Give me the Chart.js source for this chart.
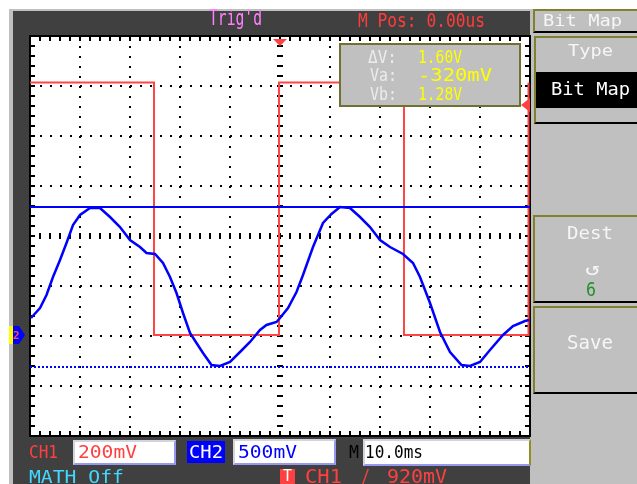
<!DOCTYPE html>
<html>
<head>
<meta charset="utf-8">
<script src="https://cdn.jsdelivr.net/npm/chart.js@4.4.1/dist/chart.umd.min.js"></script>
<style>
html, body { margin: 0; padding: 0; background: #fff; }
body { width: 637px; height: 484px; position: relative; overflow: hidden; }
.r { position: absolute; box-sizing: border-box; }
.t { position: absolute; white-space: pre; line-height: 1; font-family: 'DejaVu Sans Mono', monospace; transform-origin: 0 0; z-index: 3; }
#wrap { position: absolute; left: 0; top: 0; width: 637px; height: 484px; z-index: 1; }
.menu { border-left: 2px solid #808030; border-top: 2px solid #808030; border-bottom: 2px solid #000; }
.vbox { background: #fff; border: 2px solid; border-color: #d4d4e0 #9898f0 #9898f0 #d4d4e0; }
</style>
</head>
<body>
<!-- scope frame -->
<div class="r" style="left:9px;top:9px;width:521px;height:475px;background:#c0c0c0"></div>
<div class="r" style="left:13px;top:11px;width:517px;height:473px;background:#404040"></div>
<div class="r" style="left:530px;top:9px;width:107px;height:475px;background:#c0c0c0"></div>
<!-- right menu -->
<div class="r menu" style="left:533px;top:9px;width:104px;height:24px"></div>
<div class="r menu" style="left:534px;top:36px;width:103px;height:88px"></div>
<div class="r" style="left:536px;top:72px;width:101px;height:36px;background:#000"></div>
<div class="r menu" style="left:533px;top:215px;width:104px;height:88px"></div>
<div class="r menu" style="left:533px;top:306px;width:104px;height:88px"></div>
<!-- bottom status boxes -->
<div class="r vbox" style="left:73px;top:440px;width:103px;height:25px"></div>
<div class="r" style="left:187px;top:441px;width:38px;height:22px;background:#0000ff"></div>
<div class="r vbox" style="left:233px;top:439px;width:103px;height:26px"></div>
<div class="r vbox" style="left:363px;top:439px;width:168px;height:27px;border-right-color:#909020"></div>
<div class="r" style="left:280px;top:469px;width:15px;height:15px;background:#ff4040"></div>

<div id="wrap"><canvas id="scope"></canvas></div>

<!-- cursor readout box -->
<div class="r" style="left:339px;top:43px;width:182px;height:64px;background:#c0c0c0;border:2px solid #707030;z-index:2"></div>

<script>
// time in ms (10.0ms/div), CH1 volts (200mV/div), CH2 volts (500mV/div)
const ch2Time = [-49.8, -48, -46.7, -45.4, -44, -42.7, -41.4, -40, -38, -36, -34, -32, -30, -28, -26.7, -25,
  -23.4, -22, -20.7, -19.4, -18, -16.7, -15.4, -13.7, -12, -10, -8, -6, -4, -2.7, -0.7,
  0, 1.6, 3.3, 4.6, 6.6, 8.6, 10.3, 12, 14, 16, 18, 20, 22, 24.6,
  26.6, 28, 30, 32, 34, 36.3, 38, 40, 42, 44.6, 46.6, 49, 49.8];
const ch2Volts = [0.17, 0.27, 0.40, 0.58, 0.75, 0.92, 1.10, 1.20, 1.27, 1.27, 1.18, 1.08, 0.95, 0.88, 0.82, 0.81,
  0.72, 0.58, 0.42, 0.22, 0.02, -0.08, -0.18, -0.30, -0.31, -0.27, -0.17, -0.07, 0.05, 0.10, 0.13,
  0.17, 0.27, 0.43, 0.60, 0.88, 1.12, 1.21, 1.28, 1.27, 1.18, 1.08, 0.95, 0.88, 0.81,
  0.72, 0.58, 0.32, 0.03, -0.17, -0.30, -0.31, -0.27, -0.15, 0.00, 0.09, 0.14, 0.15];

const ch1Time = [-50, -25.2, -25.2, -0.2, -0.2, 24.8, 24.8, 49.7, 49.7];
const ch1Volts = [1.01, 1.01, 0, 0, 1.01, 1.01, 0, 0, 1.01];

const cursorVolts = [1.28, -0.32];   // Vb, Va
const timeRange = [-50, 50];
const divRange = [-4, 4];
const ch1Range = [-0.404, 1.196];
const ch2Range = [-1.01, 2.99];
const triggerTime = 0;
const triggerLevel = 0.92;

const labels = [
  { t: "Trig'd", x: 209, y: 10, w: 53, h: 15, c: '#ff80ff' },
  { t: 'M Pos: 0.00us', x: 358, y: 13, w: 127, h: 14, c: '#ff3c3c' },
  { t: 'Bit Map', x: 543, y: 15, w: 79, h: 12, c: '#f6f6f6' },
  { t: 'Type', x: 568, y: 45, w: 45, h: 12, c: '#f6f6f6' },
  { t: 'Bit Map', x: 551, y: 82, w: 79, h: 13, c: '#ffffff' },
  { t: 'Dest', x: 567, y: 226, w: 46, h: 13, c: '#f6f6f6' },
  { t: '\u21ba', x: 585, y: 262, w: 15, h: 13, c: '#f6f6f6' },
  { t: '6', x: 586, y: 282, w: 10, h: 14, c: '#20902a' },
  { t: 'Save', x: 567, y: 335, w: 46, h: 14, c: '#f6f6f6' },
  { t: '\u0394V:', x: 368, y: 50, w: 29, h: 13, c: '#ececec' },
  { t: 'Va:', x: 370, y: 68, w: 27, h: 13, c: '#ececec' },
  { t: 'Vb:', x: 370, y: 87, w: 27, h: 13, c: '#ececec' },
  { t: '1.60V', x: 418, y: 50, w: 44, h: 13, c: '#ffff00' },
  { t: '-320mV', x: 418, y: 68, w: 74, h: 13, c: '#ffff00' },
  { t: '1.28V', x: 418, y: 87, w: 44, h: 13, c: '#ffff00' },
  { t: 'CH1', x: 29, y: 445, w: 29, h: 13, c: '#ff4040' },
  { t: '200mV', x: 78, y: 445, w: 59, h: 13, c: '#ff4040' },
  { t: 'CH2', x: 189, y: 445, w: 34, h: 13, c: '#ffffff' },
  { t: '500mV', x: 238, y: 445, w: 59, h: 13, c: '#0000ff' },
  { t: 'M', x: 349, y: 445, w: 10, h: 13, c: '#000000' },
  { t: '10.0ms', x: 365, y: 445, w: 58, h: 13, c: '#000000' },
  { t: 'MATH Off', x: 29, y: 470, w: 95, h: 13, c: '#40d8ff' },
  { t: 'T', x: 283, y: 471, w: 9, h: 11, c: '#ffffff' },
  { t: 'CH1', x: 305, y: 469, w: 37, h: 14, c: '#ff4040' },
  { t: '_/', x: 352, y: 469, w: 18, h: 14, c: '#ff4040' },
  { t: '920mV', x: 387, y: 469, w: 60, h: 14, c: '#ff4040' }
];

labels.forEach(l => {
  const s = document.createElement('span');
  s.className = 't';
  s.textContent = l.t;
  const size = l.h / 0.729;
  s.style.fontSize = size + 'px';
  s.style.left = l.x + 'px';
  s.style.top = (l.y - 0.117 * size) + 'px';
  s.style.color = l.c;
  document.body.appendChild(s);
  const w = s.getBoundingClientRect().width;
  s.style.transform = 'scaleX(' + (l.w / w) + ')';
});

const toPts = (xs, ys) => xs.map((x, i) => ({ x, y: ys[i] }));

// dotted grid only on inner divisions, edges and centre get their own marks
const gridColor = (ctx) => {
  const v = ctx.tick ? ctx.tick.value : 0;
  return (v === 0 || v === timeRange[0] || v === timeRange[1] || v === divRange[0] || v === divRange[1]) ? 'rgba(0,0,0,0)' : '#000';
};

const scopeFrame = {
  id: 'scopeFrame',
  beforeDraw(chart) {
    const a = chart.chartArea;
    const ctx = chart.ctx;
    ctx.save();
    ctx.fillStyle = '#fff';
    ctx.fillRect(a.left, a.top, a.right - a.left, a.bottom - a.top);
    ctx.restore();
  },
  beforeDatasetsDraw(chart) {
    const { ctx, chartArea: a, scales } = chart;
    const xs = scales.x, ys = scales.yg;
    const cx = xs.getPixelForValue(0), cy = ys.getPixelForValue(0);
    ctx.save();
    ctx.fillStyle = '#000';
    for (let v = timeRange[0]; v <= timeRange[1] + 0.01; v += 2) {
      const px = Math.round(xs.getPixelForValue(v));
      ctx.fillRect(px - 1, a.top, 2, 5);
      ctx.fillRect(px - 1, a.bottom - 5, 2, 5);
      ctx.fillRect(px - 1, cy - 3, 2, 6);
    }
    for (let v = divRange[0]; v <= divRange[1] + 0.001; v += 0.2) {
      const py = Math.round(ys.getPixelForValue(v));
      ctx.fillRect(a.left, py - 1, 5, 2);
      ctx.fillRect(a.right - 5, py - 1, 5, 2);
      ctx.fillRect(cx - 3, py - 1, 6, 2);
    }
    ctx.lineWidth = 2;
    ctx.strokeStyle = '#000';
    ctx.strokeRect(a.left, a.top, a.right - a.left, a.bottom - a.top);
    ctx.restore();
  },
  afterDatasetsDraw(chart) {
    const { ctx, chartArea: a, scales } = chart;
    ctx.save();
    ctx.fillStyle = '#ff4040';
    // trigger position marker
    const tx = scales.x.getPixelForValue(triggerTime);
    ctx.beginPath();
    ctx.moveTo(tx - 7, a.top + 3);
    ctx.lineTo(tx + 7, a.top + 3);
    ctx.lineTo(tx, a.top + 10);
    ctx.fill();
    // trigger level marker
    const ty = scales.y1.getPixelForValue(triggerLevel);
    ctx.beginPath();
    ctx.moveTo(a.right, ty - 7);
    ctx.lineTo(a.right, ty + 7);
    ctx.lineTo(a.right - 9, ty);
    ctx.fill();
    // CH2 ground marker
    const gy = scales.y2.getPixelForValue(0);
    ctx.fillStyle = '#ffff00';
    ctx.fillRect(9, gy - 9, 4, 18);
    ctx.fillStyle = '#0000ff';
    ctx.beginPath();
    ctx.moveTo(13, gy - 9);
    ctx.lineTo(19, gy - 9);
    ctx.lineTo(25, gy);
    ctx.lineTo(19, gy + 9);
    ctx.lineTo(13, gy + 9);
    ctx.fill();
    ctx.fillStyle = '#ff5050';
    ctx.font = 'bold 11px "DejaVu Sans Mono"';
    ctx.textBaseline = 'middle';
    ctx.fillText('2', 13, gy + 1);
    ctx.restore();
  }
};

new Chart(document.getElementById('scope'), {
  type: 'line',
  data: {
    datasets: [
      { label: 'CH2', data: toPts(ch2Time, ch2Volts), yAxisID: 'y2', borderColor: '#0000ff', borderWidth: 2.5, pointRadius: 0, tension: 0 },
      { label: 'Vb', data: toPts(timeRange, [cursorVolts[0], cursorVolts[0]]), yAxisID: 'y2', borderColor: '#0000ff', borderWidth: 2, pointRadius: 0 },
      { label: 'Va', data: toPts(timeRange, [cursorVolts[1], cursorVolts[1]]), yAxisID: 'y2', borderColor: '#0000ff', borderWidth: 2, borderDash: [2, 2], pointRadius: 0 },
      { label: 'CH1', data: toPts(ch1Time, ch1Volts), yAxisID: 'y1', borderColor: '#ff4646', borderWidth: 2, pointRadius: 0, tension: 0 }
    ]
  },
  options: {
    responsive: true,
    maintainAspectRatio: false,
    animation: false,
    devicePixelRatio: 1,
    layout: { padding: { left: 30, top: 36, right: 107, bottom: 48 } },
    plugins: { legend: { display: false }, tooltip: { enabled: false } },
    scales: {
      x: {
        type: 'linear', min: timeRange[0], max: timeRange[1],
        ticks: { display: false, stepSize: 10 },
        grid: { color: gridColor, lineWidth: 2, drawTicks: false },
        border: { display: false, dash: [2, 8] }
      },
      yg: {
        type: 'linear', position: 'left', min: divRange[0], max: divRange[1],
        ticks: { display: false, stepSize: 1 },
        grid: { color: gridColor, lineWidth: 2, drawTicks: false },
        border: { display: false, dash: [2, 8] }
      },
      y1: { type: 'linear', display: false, min: ch1Range[0], max: ch1Range[1] },
      y2: { type: 'linear', display: false, min: ch2Range[0], max: ch2Range[1] }
    }
  },
  plugins: [scopeFrame]
});
</script>
</body>
</html>
